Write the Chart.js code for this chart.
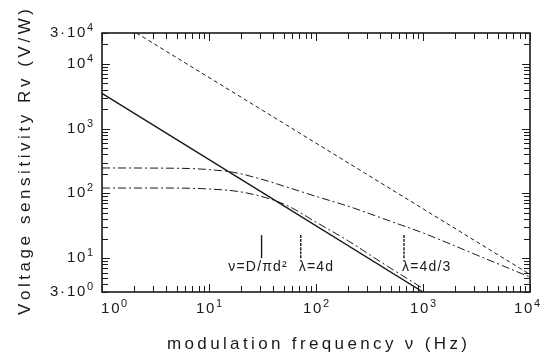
<!DOCTYPE html>
<html>
<head>
<meta charset="utf-8">
<script src="https://cdn.jsdelivr.net/npm/chart.js@4"></script>
<style>
  html, body { margin: 0; padding: 0; background: #fff; }
</style>
</head>
<body>
<canvas id="chart" width="541" height="355"></canvas>
<script>
"use strict";

// Curves: frequency (Hz) -> Rv (V/W)
const solidFreq = [1, 1000];
const solidRv = [3500, 3];

const dashedFreq = [2.1, 10000];
const dashedRv = [30000, 5.6];

const upperFreq = [1, 3, 6.6, 10, 16.8, 30, 57, 100, 208, 500, 1000, 3162, 10000];
const upperRv = [247, 246, 242, 233, 212, 168, 121, 90, 62, 37, 24.5, 11.2, 5.1];

const lowerFreq = [1, 3, 6.6, 10, 19.5, 40, 57, 100, 200, 400, 1000];
const lowerRv = [121, 121, 120, 117, 106, 79, 62, 36, 18.5, 8.8, 3.4];

// vertical markers with their captions
const markerFreq = [31, 72, 664];
const markerRv = [10, 22.7];
const markerLabels = ["ν=D/πd²", "λ=4d", "λ=4d/3"];

// tick labels (base, exponent)
const xTicks = [1, 10, 100, 1000, 10000];
const xTickLabels = [["10", "0"], ["10", "1"], ["10", "2"], ["10", "3"], ["10", "4"]];
const yTicks = [3, 10, 100, 1000, 10000, 30000];
const yTickLabels = [["3·10", "0"], ["10", "1"], ["10", "2"], ["10", "3"], ["10", "4"], ["3·10", "4"]];

const xTitle = "modulation frequency ν (Hz)";
const yTitle = "Voltage sensitivity Rv (V/W)";

const FONT = "'Liberation Sans', Arial, sans-serif";
const INK = "#1a1a1a";

const toPoints = (xs, ys) => xs.map((x, i) => ({ x: x, y: ys[i] }));

// draw text one glyph at a time, with extra spacing (plotter look)
const spacedWidth = (ctx, text, sp) => {
  let w = 0;
  for (const ch of text) w += ctx.measureText(ch).width;
  return w + sp * ([...text].length - 1);
};
const drawSpaced = (ctx, text, x, y, sp) => {
  for (const ch of text) {
    ctx.fillText(ch, x, y);
    x += ctx.measureText(ch).width + sp;
  }
};

// "10" with a raised exponent; align: left | center | right
const drawPow = (ctx, base, exp, x, y, align) => {
  ctx.font = "15px " + FONT;
  const wb = spacedWidth(ctx, base, 1.8);
  ctx.font = "11px " + FONT;
  const we = ctx.measureText(exp).width;
  const w = wb + 1.5 + we;
  let x0 = x;
  if (align === "center") x0 = x - w / 2;
  if (align === "right") x0 = x - w;
  ctx.textBaseline = "alphabetic";
  ctx.textAlign = "left";
  ctx.font = "15px " + FONT;
  drawSpaced(ctx, base, x0, y + 5, 1.8);
  ctx.font = "11px " + FONT;
  ctx.fillText(exp, x0 + wb + 1.5, y - 1);
};

const frame = {
  id: "frame",
  afterDraw(chart) {
    const ctx = chart.ctx;
    const { left, right, top, bottom } = chart.chartArea;
    const xs = chart.scales.x;
    const ys = chart.scales.y;
    ctx.save();
    ctx.strokeStyle = INK;
    ctx.fillStyle = INK;

    // box
    ctx.lineWidth = 1.6;
    ctx.strokeRect(left, top, right - left, bottom - top);

    // inward ticks, mirrored on all four sides
    ctx.lineWidth = 1;
    ctx.beginPath();
    for (let d = 0; d <= 4; d++) {
      for (let m = 1; m <= 9; m++) {
        const v = m * Math.pow(10, d);
        if (v > 10000) break;
        const px = Math.round(xs.getPixelForValue(v)) + 0.5;
        const len = m === 1 ? 8 : 6;
        ctx.moveTo(px, bottom); ctx.lineTo(px, bottom - len);
        ctx.moveTo(px, top); ctx.lineTo(px, top + len);
      }
    }
    for (let d = 0; d <= 4; d++) {
      for (let m = 1; m <= 9; m++) {
        const v = m * Math.pow(10, d);
        if (v < 3 || v > 30000) continue;
        const py = Math.round(ys.getPixelForValue(v)) + 0.5;
        const len = m === 1 ? 8 : 6;
        ctx.moveTo(left, py); ctx.lineTo(left + len, py);
        ctx.moveTo(right, py); ctx.lineTo(right - len, py);
      }
    }
    ctx.stroke();

    // x tick labels (end labels pulled inside the page)
    xTicks.forEach((v, i) => {
      const px = xs.getPixelForValue(v);
      let align = "center";
      let x = px;
      if (i === 0) { align = "left"; x = left - 1; }
      if (i === xTicks.length - 1) { align = "right"; x = 540; }
      drawPow(ctx, xTickLabels[i][0], xTickLabels[i][1], x, bottom + 16, align);
    });

    // y tick labels
    yTicks.forEach((v, i) => {
      const py = ys.getPixelForValue(v);
      drawPow(ctx, yTickLabels[i][0], yTickLabels[i][1], 93, py - 1, "right");
    });

    // marker captions
    ctx.font = "14px " + FONT;
    ctx.textBaseline = "middle";
    ctx.textAlign = "left";
    const capY = ys.getPixelForValue(markerRv[0]) + 9;
    markerLabels.forEach((t, i) => {
      const px = xs.getPixelForValue(markerFreq[i]);
      const w = spacedWidth(ctx, t, 1.2);
      const x0 = i === 0 ? px - w * 0.57 : px - 2;
      drawSpaced(ctx, t, x0, capY, 1.2);
    });

    // axis titles, stretched to the width they have in the figure
    ctx.font = "17px " + FONT;
    ctx.textBaseline = "middle";
    let sp = (300 - spacedWidth(ctx, xTitle, 0)) / ([...xTitle].length - 1);
    drawSpaced(ctx, xTitle, 317 - 150, 344, sp);

    ctx.translate(25, 162);
    ctx.rotate(-Math.PI / 2);
    sp = (306 - spacedWidth(ctx, yTitle, 0)) / ([...yTitle].length - 1);
    drawSpaced(ctx, yTitle, -153, 0, sp);

    ctx.restore();
  }
};

const lineSet = (xs, ys, width, dash) => ({
  data: toPoints(xs, ys),
  borderColor: INK,
  borderWidth: width,
  borderDash: dash,
  pointRadius: 0,
  fill: false,
  cubicInterpolationMode: "monotone",
});

const datasets = [
  lineSet(solidFreq, solidRv, 1.4, []),
  lineSet(dashedFreq, dashedRv, 1, [4, 3]),
  lineSet(upperFreq, upperRv, 1, [8, 3, 2, 3]),
  lineSet(lowerFreq, lowerRv, 1, [8, 3, 2, 3]),
];
markerFreq.forEach((f, i) => {
  datasets.push(lineSet([f, f], markerRv, 1.4, i === 0 ? [] : [3, 1]));
});

const canvas = document.querySelector("#chart");
new Chart(canvas, {
  type: "line",
  data: { datasets: datasets },
  options: {
    responsive: false,
    animation: false,
    layout: { padding: { left: 102, top: 33, right: 11, bottom: 63 } },
    plugins: { legend: { display: false }, tooltip: { enabled: false } },
    scales: {
      x: { type: "logarithmic", min: 1, max: 10000, display: false },
      y: { type: "logarithmic", min: 3, max: 30000, display: false },
    },
  },
  plugins: [frame],
});
</script>
</body>
</html>
